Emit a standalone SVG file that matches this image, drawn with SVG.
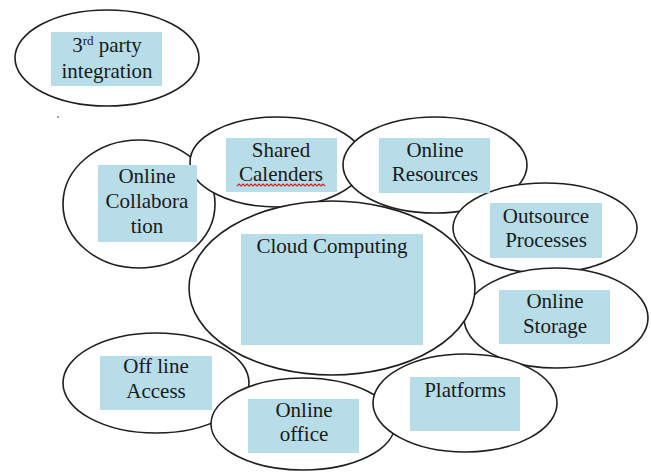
<svg xmlns="http://www.w3.org/2000/svg" width="651" height="472" viewBox="0 0 651 472">
  <style>
    .bubble { fill: #ffffff; stroke: #1e1e1e; stroke-width: 1.6; }
    .box { fill: #b6dde8; }
    .lbl { font-family: "Times New Roman", "Liberation Serif", Tinos, "DejaVu Serif", serif; font-size: 21px; fill: #1a1a1a; text-anchor: middle; }
    .spell { fill: none; stroke: #e0201c; stroke-width: 1.2; }
  </style>
  <rect width="651" height="472" fill="#ffffff"/>

  <!-- stray dot -->
  <circle cx="58" cy="117" r="1" fill="#888"/>

  <g id="third-party">
    <ellipse class="bubble" cx="107" cy="58" rx="92" ry="48"/>
    <rect class="box" x="51" y="32" width="111" height="54"/>
    <text class="lbl" x="107" y="52">3<tspan font-size="13" dy="-7">rd</tspan><tspan dy="7"> party</tspan></text>
    <text class="lbl" x="107" y="78">integration</text>
  </g>

  <g id="online-collaboration">
    <ellipse class="bubble" cx="139" cy="204" rx="76" ry="64"/>
  </g>

  <g id="shared-calenders">
    <ellipse class="bubble" cx="277" cy="162" rx="87" ry="45"/>
  </g>

  <g id="online-resources">
    <ellipse class="bubble" cx="435" cy="165" rx="92" ry="48"/>
  </g>

  <g id="outsource-processes">
    <ellipse class="bubble" cx="545" cy="228" rx="92" ry="45"/>
  </g>

  <g id="online-storage">
    <ellipse class="bubble" cx="556" cy="318" rx="92" ry="50"/>
  </g>

  <g id="cloud-computing">
    <ellipse class="bubble" cx="332" cy="288" rx="143" ry="87"/>
  </g>

  <g id="off-line-access">
    <ellipse class="bubble" cx="156" cy="383" rx="93" ry="50"/>
  </g>

  <g id="online-office">
    <ellipse class="bubble" cx="303" cy="424" rx="92" ry="46"/>
  </g>

  <g id="platforms">
    <ellipse class="bubble" cx="465" cy="403" rx="92" ry="49"/>
  </g>

  <!-- label boxes sit above every outline -->
  <g id="labels">
    <g id="online-collaboration-label">
      <rect class="box" x="98" y="165" width="99" height="77"/>
      <text class="lbl" x="147" y="183">Online</text>
      <text class="lbl" x="147" y="208">Collabora</text>
      <text class="lbl" x="147" y="233">tion</text>
    </g>
    <g id="shared-calenders-label">
      <rect class="box" x="226" y="138" width="111" height="54"/>
      <text class="lbl" x="281" y="157">Shared</text>
      <text class="lbl" x="281" y="181">Calenders</text>
      <path class="spell" d="M237 186 l2 -2 l2 2 l2 -2 l2 2 l2 -2 l2 2 l2 -2 l2 2 l2 -2 l2 2 l2 -2 l2 2 l2 -2 l2 2 l2 -2 l2 2 l2 -2 l2 2 l2 -2 l2 2 l2 -2 l2 2 l2 -2 l2 2 l2 -2 l2 2 l2 -2 l2 2 l2 -2 l2 2 l2 -2 l2 2 l2 -2 l2 2 l2 -2 l2 2 l2 -2 l2 2 l2 -2 l2 2 l2 -2 l2 2 l2 -2 l2 2"/>
    </g>
    <g id="online-resources-label">
      <rect class="box" x="379" y="138" width="111" height="55"/>
      <text class="lbl" x="435" y="157">Online</text>
      <text class="lbl" x="435" y="181">Resources</text>
    </g>
    <g id="outsource-processes-label">
      <rect class="box" x="490" y="203" width="112" height="55"/>
      <text class="lbl" x="546" y="223">Outsource</text>
      <text class="lbl" x="546" y="247">Processes</text>
    </g>
    <g id="online-storage-label">
      <rect class="box" x="499" y="290" width="111" height="54"/>
      <text class="lbl" x="555" y="308">Online</text>
      <text class="lbl" x="555" y="333">Storage</text>
    </g>
    <g id="cloud-computing-label">
      <rect class="box" x="241" y="234" width="182" height="111"/>
      <text class="lbl" x="332" y="253">Cloud Computing</text>
    </g>
    <g id="off-line-access-label">
      <rect class="box" x="100" y="356" width="112" height="54"/>
      <text class="lbl" x="156" y="373">Off line</text>
      <text class="lbl" x="156" y="398">Access</text>
    </g>
    <g id="online-office-label">
      <rect class="box" x="248" y="399" width="111" height="54"/>
      <text class="lbl" x="304" y="417">Online</text>
      <text class="lbl" x="304" y="441">office</text>
    </g>
    <g id="platforms-label">
      <rect class="box" x="410" y="377" width="110" height="54"/>
      <text class="lbl" x="465" y="397">Platforms</text>
    </g>
  </g>

  <!-- this figure has no connector lines -->
  <g id="connectors"/>
</svg>
